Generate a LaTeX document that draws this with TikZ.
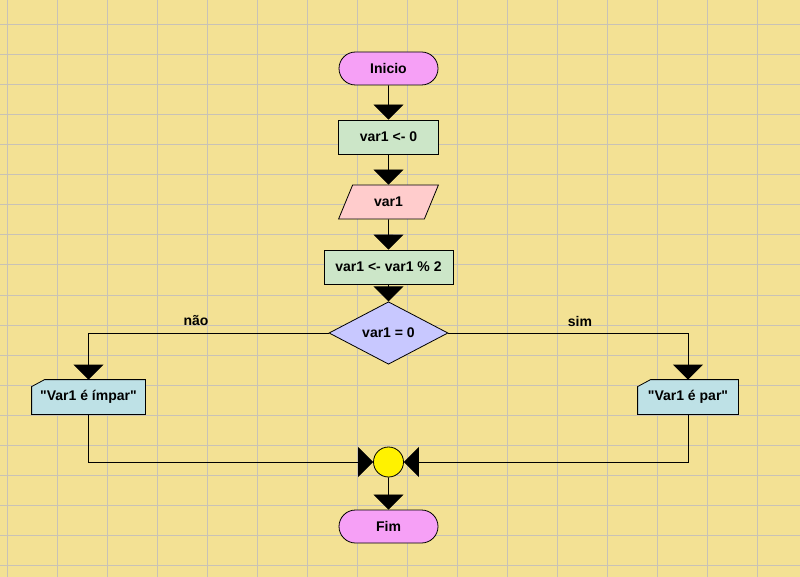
\documentclass[tikz,border=0pt]{standalone}
\usepackage{fontspec}
\setmainfont{Liberation Sans}[Ligatures=TeXOff]
\usetikzlibrary{arrows.meta,shapes.misc,shapes.geometric,backgrounds}
\definecolor{bgcol}{RGB}{243,225,148}
\definecolor{gridcol}{RGB}{200,194,182}
\definecolor{termcol}{RGB}{246,160,246}
\definecolor{proccol}{RGB}{204,230,200}
\definecolor{iocol}{RGB}{255,204,204}
\definecolor{deccol}{RGB}{200,200,255}
\definecolor{outcol}{RGB}{190,225,230}
\begin{document}
\begin{tikzpicture}[x=1pt,y=-1pt,
  every node/.style={font=\fontsize{14}{16}\selectfont\bfseries, inner sep=0pt, line width=0.8pt},
  term/.style={rounded rectangle, draw, fill=termcol, minimum width=99pt, minimum height=33pt},
  proc/.style={rectangle, draw, fill=proccol, minimum height=34pt},
  iobox/.style={trapezium, trapezium left angle=60, trapezium right angle=120, trapezium stretches=true, draw, fill=iocol, minimum width=100pt, minimum height=34pt},
  decbox/.style={diamond, draw, fill=deccol, minimum width=119pt, minimum height=60pt},
  outbox/.style={rectangle, minimum height=34pt},
  outshape/.style={draw, fill=outcol, line width=0.8pt},
  joinpt/.style={circle, draw, fill=yellow, minimum size=30pt},
  lbl/.style={},
  conn/.style={line width=0.8pt, -{Triangle[length=15pt,width=30pt]}},
]
\useasboundingbox (0,0) rectangle (800,577);
\begin{scope}[on background layer]
\fill[bgcol] (0,0) rectangle (800,577);
\foreach \i in {0,...,15} \draw[gridcol, line width=1pt] (7+50*\i,0) -- (7+50*\i,577);
\foreach \j in {0,...,18} \draw[gridcol, line width=1pt] (0,25+30*\j) -- (800,25+30*\j);
\end{scope}

\node[term] (start) at (388.5,68.5) {Inicio};
\node[proc, minimum width=100pt] (init) at (388.5,137) {var1 <- 0};
\node[iobox] (read) at (388.5,202) {var1};
\node[proc, minimum width=129pt] (calc) at (388.5,267) {var1 <- var1 \% 2};
\node[decbox] (dec) at (388.5,333) {var1 = 0};
\node[outbox, minimum width=113pt] (odd) at (88.5,397) {"Var1 é ímpar"};
\node[outbox, minimum width=100pt] (even) at (688,397) {"Var1 é par"};
\node[joinpt] (join) at (388.5,462) {};
\node[term] (end) at (388.5,526.5) {Fim};
\node[lbl] (nao) at (196,321) {não};
\node[lbl] (sim) at (580,321) {sim};

\begin{scope}[on background layer]
\foreach \b in {odd,even}
  \draw[outshape] ([yshift=-7pt]\b.north west) -- ([xshift=13pt]\b.north west) -- (\b.north east) -- (\b.south east) -- (\b.south west) -- cycle;
\end{scope}

\draw[conn] (start) -- (init);
\draw[conn] (init) -- (read);
\draw[conn] (read) -- (calc);
\draw[conn] (calc) -- (dec);
\draw[conn] (dec.west) -| (odd.north);
\draw[conn] (dec.east) -| (even.north);
\draw[conn] (odd.south) |- (join.west);
\draw[conn] (even.south) |- (join.east);
\draw[conn] (join) -- (end);
\end{tikzpicture}
\end{document}
